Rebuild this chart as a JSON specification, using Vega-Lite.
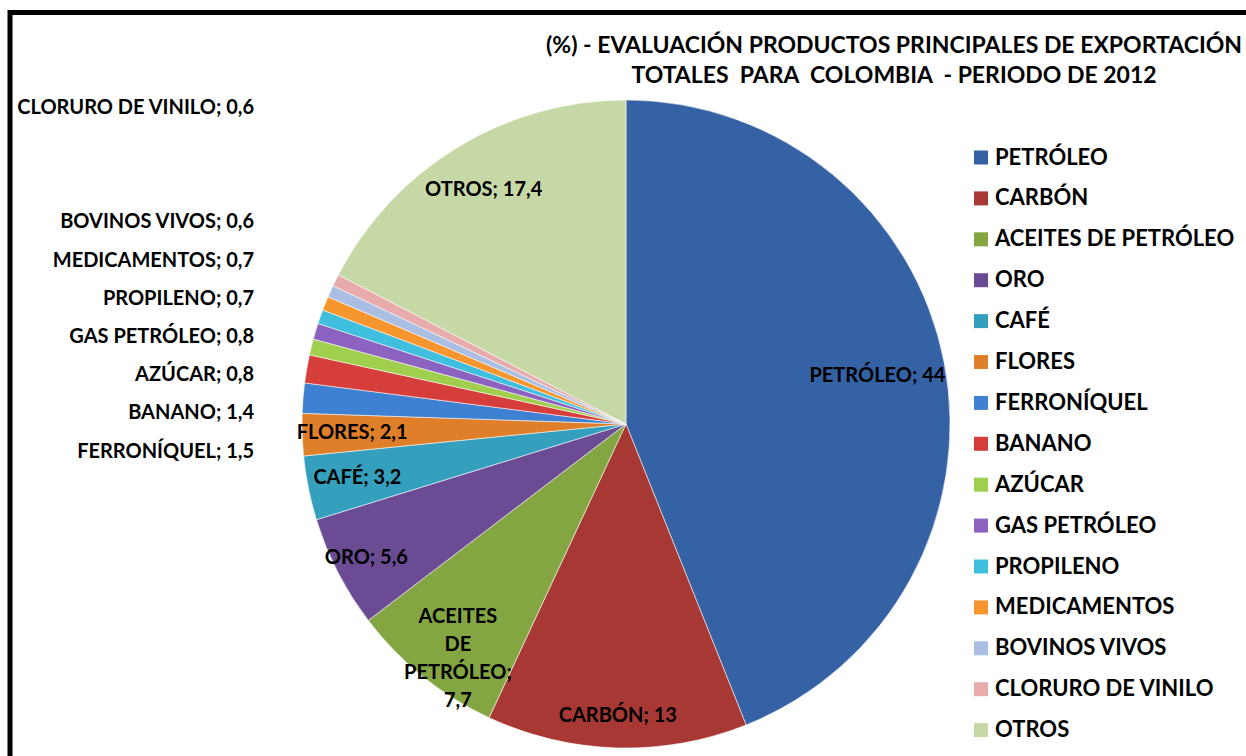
{
  "$schema": "https://vega.github.io/schema/vega-lite/v6.json",
  "width": 1246,
  "height": 763.5,
  "autosize": {"type": "none"},
  "padding": {"left": 10, "top": 12.5, "right": -10, "bottom": -20},
  "background": "white",
  "title": {
    "text": ["(%) - EVALUACIÓN PRODUCTOS PRINCIPALES DE EXPORTACIÓN", "TOTALES \u00a0PARA \u00a0COLOMBIA \u00a0- PERIODO DE 2012"],
    "orient": "top",
    "anchor": "end",
    "frame": "group",
    "align": "center",
    "dx": -362,
    "offset": -75,
    "lineHeight": 30,
    "font": "Lato",
    "fontSize": 23,
    "fontWeight": "bold",
    "color": "#000000"
  },
  "data": {
    "values": [
      {"producto": "PETRÓLEO", "valor": 44, "etiqueta": "PETRÓLEO; 44"},
      {"producto": "CARBÓN", "valor": 13, "etiqueta": "CARBÓN; 13"},
      {"producto": "ACEITES DE PETRÓLEO", "valor": 7.7, "etiqueta": "ACEITES DE PETRÓLEO; 7,7"},
      {"producto": "ORO", "valor": 5.6, "etiqueta": "ORO; 5,6"},
      {"producto": "CAFÉ", "valor": 3.2, "etiqueta": "CAFÉ; 3,2"},
      {"producto": "FLORES", "valor": 2.1, "etiqueta": "FLORES; 2,1"},
      {"producto": "FERRONÍQUEL", "valor": 1.5, "etiqueta": "FERRONÍQUEL; 1,5"},
      {"producto": "BANANO", "valor": 1.4, "etiqueta": "BANANO; 1,4"},
      {"producto": "AZÚCAR", "valor": 0.8, "etiqueta": "AZÚCAR; 0,8"},
      {"producto": "GAS PETRÓLEO", "valor": 0.8, "etiqueta": "GAS PETRÓLEO; 0,8"},
      {"producto": "PROPILENO", "valor": 0.7, "etiqueta": "PROPILENO; 0,7"},
      {"producto": "MEDICAMENTOS", "valor": 0.7, "etiqueta": "MEDICAMENTOS; 0,7"},
      {"producto": "BOVINOS VIVOS", "valor": 0.6, "etiqueta": "BOVINOS VIVOS; 0,6"},
      {"producto": "CLORURO DE VINILO", "valor": 0.6, "etiqueta": "CLORURO DE VINILO; 0,6"},
      {"producto": "OTROS", "valor": 17.4, "etiqueta": "OTROS; 17,4"}
    ]
  },
  "transform": [{"window": [{"op": "row_number", "as": "orden"}]}],
  "resolve": {"scale": {"x": "independent", "y": "independent"}},
  "layer": [
    {
      "layer": [
        {
          "mark": {"type": "arc", "outerRadius": 324, "stroke": "#ffffff", "strokeOpacity": 0.55, "strokeWidth": 1},
          "encoding": {
            "theta": {"field": "valor", "type": "quantitative", "stack": true},
            "order": {"field": "orden", "type": "quantitative"},
            "color": {
              "field": "producto",
              "type": "nominal",
              "scale": {
                "domain": ["PETRÓLEO", "CARBÓN", "ACEITES DE PETRÓLEO", "ORO", "CAFÉ", "FLORES", "FERRONÍQUEL", "BANANO", "AZÚCAR", "GAS PETRÓLEO", "PROPILENO", "MEDICAMENTOS", "BOVINOS VIVOS", "CLORURO DE VINILO", "OTROS"],
                "range": ["#3462A4", "#A83834", "#84A642", "#6B4C94", "#34A0BD", "#E07F2A", "#3E80D2", "#D63E3B", "#A0CF4E", "#8B62BF", "#40BEDD", "#F7962F", "#A9BEE2", "#E6ABAA", "#C6D8A5"]
              },
              "legend": {
                "orient": "none",
                "legendX": 960,
                "legendY": 134,
                "title": null,
                "padding": 0,
                "symbolType": "square",
                "symbolSize": 196,
                "symbolStrokeWidth": 0,
                "labelFont": "Lato",
                "labelFontSize": 22,
                "labelFontWeight": "bold",
                "labelColor": "#000000",
                "labelLimit": 400,
                "labelOffset": 3,
                "rowPadding": 18.9
              }
            },
            "x": {"datum": 0, "type": "quantitative", "scale": {"domain": [-1.9012, 1.9444], "nice": false, "zero": false}, "axis": null},
            "y": {"datum": 0, "type": "quantitative", "scale": {"domain": [-1.0864, 1.2701], "nice": false, "zero": false}, "axis": null}
          }
        },
        {
          "mark": {"type": "text", "radius": 292, "font": "Lato", "fontSize": 20, "fontWeight": "bold", "color": "#000000", "align": "center", "baseline": "middle"},
          "encoding": {
            "theta": {"field": "valor", "type": "quantitative", "stack": true},
            "order": {"field": "orden", "type": "quantitative"},
            "text": {"condition": {"test": "indexof(['CARBÓN','ORO'], datum.producto) >= 0", "field": "etiqueta"}, "value": ""},
            "x": {"datum": 0, "type": "quantitative", "scale": {"domain": [-1.9012, 1.9444], "nice": false, "zero": false}, "axis": null},
            "y": {"datum": 0, "type": "quantitative", "scale": {"domain": [-1.0864, 1.2701], "nice": false, "zero": false}, "axis": null}
          }
        },
        {
          "mark": {"type": "text", "radius": 274, "font": "Lato", "fontSize": 20, "fontWeight": "bold", "color": "#000000", "align": "center", "baseline": "middle"},
          "encoding": {
            "theta": {"field": "valor", "type": "quantitative", "stack": true},
            "order": {"field": "orden", "type": "quantitative"},
            "text": {"condition": {"test": "indexof(['CAFÉ','FLORES','OTROS'], datum.producto) >= 0", "field": "etiqueta"}, "value": ""},
            "x": {"datum": 0, "type": "quantitative", "scale": {"domain": [-1.9012, 1.9444], "nice": false, "zero": false}, "axis": null},
            "y": {"datum": 0, "type": "quantitative", "scale": {"domain": [-1.0864, 1.2701], "nice": false, "zero": false}, "axis": null}
          }
        },
        {
          "mark": {"type": "text", "radius": 256, "font": "Lato", "fontSize": 20, "fontWeight": "bold", "color": "#000000", "align": "center", "baseline": "middle"},
          "encoding": {
            "theta": {"field": "valor", "type": "quantitative", "stack": true},
            "order": {"field": "orden", "type": "quantitative"},
            "text": {"condition": {"test": "datum.producto === 'PETRÓLEO'", "field": "etiqueta"}, "value": ""},
            "x": {"datum": 0, "type": "quantitative", "scale": {"domain": [-1.9012, 1.9444], "nice": false, "zero": false}, "axis": null},
            "y": {"datum": 0, "type": "quantitative", "scale": {"domain": [-1.0864, 1.2701], "nice": false, "zero": false}, "axis": null}
          }
        },
        {
          "mark": {"type": "text", "radius": 268, "dy": -16, "font": "Lato", "fontSize": 20, "fontWeight": "bold", "color": "#000000", "align": "center", "baseline": "middle", "lineBreak": " ", "lineHeight": 28},
          "encoding": {
            "theta": {"field": "valor", "type": "quantitative", "stack": true},
            "order": {"field": "orden", "type": "quantitative"},
            "text": {"condition": {"test": "datum.producto === 'ACEITES DE PETRÓLEO'", "field": "etiqueta"}, "value": ""},
            "x": {"datum": 0, "type": "quantitative", "scale": {"domain": [-1.9012, 1.9444], "nice": false, "zero": false}, "axis": null},
            "y": {"datum": 0, "type": "quantitative", "scale": {"domain": [-1.0864, 1.2701], "nice": false, "zero": false}, "axis": null}
          }
        }
      ]
    },
    {
      "transform": [{"filter": "datum.orden >= 7 && datum.orden <= 14"}],
      "mark": {"type": "text", "font": "Lato", "fontSize": 20, "fontWeight": "bold", "color": "#000000", "align": "right", "baseline": "middle"},
      "encoding": {
        "text": {"field": "etiqueta"},
        "x": {"datum": -1.148, "type": "quantitative", "scale": {"domain": [-1.9012, 1.9444], "nice": false, "zero": false}, "axis": null},
        "y": {
          "field": "producto",
          "type": "nominal",
          "scale": {
            "type": "point",
            "domain": ["_1", "_2", "CLORURO DE VINILO", "_3", "_4", "BOVINOS VIVOS", "MEDICAMENTOS", "PROPILENO", "GAS PETRÓLEO", "AZÚCAR", "BANANO", "FERRONÍQUEL", "_5", "_6", "_7", "_8", "_9", "_10", "_11", "_12"],
            "padding": 0.5
          },
          "axis": null
        }
      }
    }
  ],
  "config": {
    "view": {"stroke": "#000000", "strokeWidth": 5},
    "font": "Lato"
  }
}
